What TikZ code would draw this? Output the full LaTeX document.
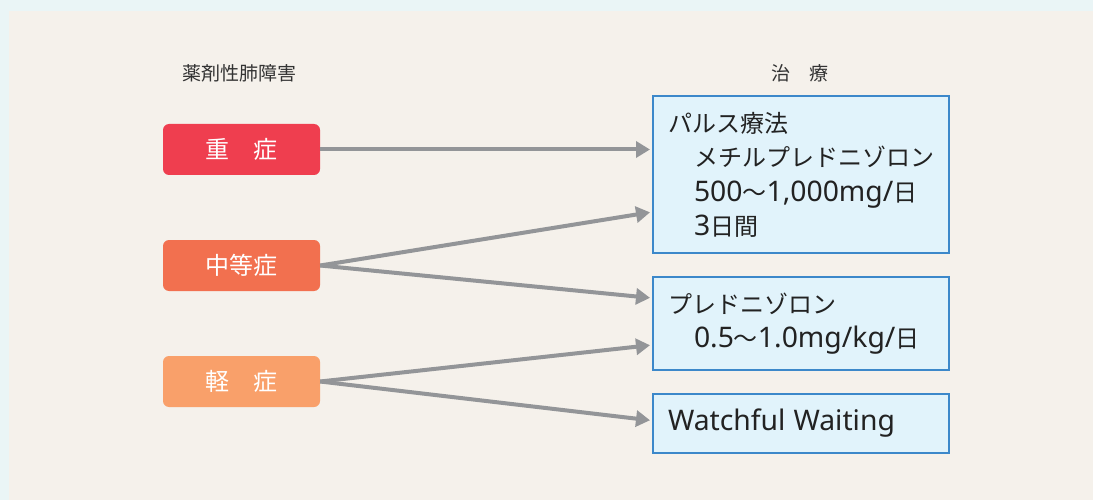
\documentclass[tikz,border=0pt]{standalone}
\usepackage{fontspec}
\setmainfont{Noto Sans CJK JP}
\newfontfamily\lat{Noto Sans}[Scale=1.18]
\usetikzlibrary{arrows.meta,calc}
\definecolor{outerbg}{HTML}{EAF5F6}
\definecolor{beige}{HTML}{F5F1EB}
\definecolor{sevred}{HTML}{EF3E4F}
\definecolor{sevorange}{HTML}{F2704F}
\definecolor{sevlight}{HTML}{F9A06A}
\definecolor{boxfill}{HTML}{E1F3FB}
\definecolor{boxline}{HTML}{3C88CA}
\definecolor{arrowgray}{HTML}{939598}
\definecolor{txt}{HTML}{222222}
\definecolor{ttlc}{HTML}{333333}
\begin{document}
\begin{tikzpicture}[x=1pt,y=-1pt,
  sev/.style={rounded corners=6pt, minimum width=157pt, minimum height=51pt, text=white, font=\fontsize{24}{28}\selectfont, inner sep=0pt},
  tx/.style={draw=boxline, line width=2pt, fill=boxfill, minimum width=296pt, text width=266pt, inner xsep=15pt, inner ysep=0pt, align=left, font=\fontsize{24}{34}\selectfont, text=txt},
  conn/.style={draw=arrowgray, line width=4pt, -{Triangle[length=14pt,width=16pt]}, shorten >=2pt},
  ttl/.style={font=\fontsize{19}{22}\selectfont, text=ttlc, inner sep=0pt}]
\fill[outerbg] (0,0) rectangle (1093,500);
\fill[beige] (9,11) rectangle (1093,500);
\useasboundingbox (0,0) rectangle (1093,500);

\node[ttl] (h1) at (239,73) {薬剤性肺障害};
\node[ttl] (h2) at (800,73) {治　療};

\node[sev, fill=sevred] (s1) at (241.5,149.5) {重　症};
\node[sev, fill=sevorange] (s2) at (241.5,265.5) {中等症};
\node[sev, fill=sevlight] (s3) at (241.5,381.5) {軽　症};

\node[tx, minimum height=157pt] (t1) at (801,174.5) {パルス療法\\\hspace*{26pt}メチルプレドニゾロン\\[1pt]\hspace*{26pt}{\lat 500}〜{\lat 1,000mg/}日\\\hspace*{26pt}{\lat 3}日間};
\node[tx, minimum height=93pt] (t2) at (801,323.5) {プレドニゾロン\\\hspace*{26pt}{\lat 0.5}〜{\lat 1.0mg/kg/}日};
\node[tx, minimum height=59pt] (t3) at (801,423.5) {{\lat Watchful Waiting}};

\coordinate (e1) at (t1.west |- s1.east);
\coordinate (e2) at ($(t1.south west)+(0,-42)$);
\coordinate (e3) at ($(t2.north west)+(0,22)$);
\coordinate (e4) at ($(t2.south west)+(0,-26)$);
\coordinate (e5) at ($(t3.west)+(0,-3)$);

\draw[conn] (s1.east) -- (e1);
\draw[conn] (s2.east) -- (e2);
\draw[conn] (s2.east) -- (e3);
\draw[conn] (s3.east) -- (e4);
\draw[conn] (s3.east) -- (e5);
\end{tikzpicture}
\end{document}
